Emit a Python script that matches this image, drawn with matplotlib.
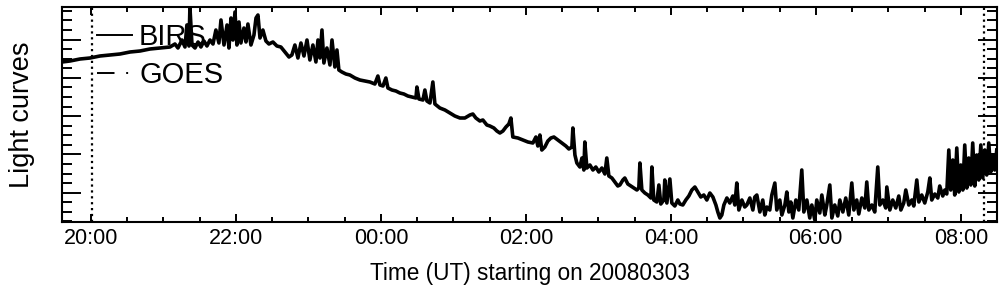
import numpy as np
import matplotlib.pyplot as plt
from matplotlib.ticker import MultipleLocator, FuncFormatter

plt.rcParams['font.family'] = ['Liberation Sans', 'DejaVu Sans']

# BIRS light curve: minutes after 20:00 UT on 2008-03-03, arbitrary units
minutes = [
    -24.0, -17.4, -9.1, -0.8, 7.4, 15.7, 24.0, 32.3, 40.6, 48.8, 57.1, 65.4,
    69.5, 72.0, 75.3, 77.8, 79.4, 81.1, 81.9, 83.6, 86.1, 88.6, 91.0, 93.5,
    96.0, 98.5, 101.0, 103.4, 105.9, 107.6, 110.1, 112.6, 114.2, 115.9, 117.5, 119.2,
    120.8, 122.5, 124.1, 126.6, 128.3, 129.9, 132.4, 134.9, 136.6, 138.2, 139.9, 142.3,
    144.8, 147.3, 150.6, 153.9, 157.2, 160.6, 163.9, 166.3, 168.8, 171.3, 173.8, 176.3,
    178.8, 181.2, 183.7, 186.2, 187.9, 189.5, 191.2, 192.8, 195.3, 197.8, 199.5, 201.9,
    203.6, 205.2, 207.7, 211.0, 214.3, 218.5, 222.6, 226.8, 230.9, 235.0, 237.5, 239.2,
    241.7, 244.1, 245.8, 249.1, 252.4, 255.7, 259.0, 262.3, 265.7, 269.0, 269.8, 271.5,
    274.8, 276.4, 278.1, 280.6, 283.0, 284.7, 288.8, 293.0, 297.1, 301.2, 305.4, 309.5,
    313.7, 316.1, 318.6, 321.9, 324.4, 327.7, 330.2, 333.5, 336.0, 338.5, 341.0, 343.5,
    345.9, 347.6, 349.2, 353.4, 357.5, 361.7, 365.8, 368.3, 369.9, 371.6, 373.2, 375.7,
    378.2, 380.7, 383.2, 386.5, 389.8, 393.1, 395.6, 398.1, 398.9, 400.6, 402.2, 404.7,
    406.4, 408.0, 408.8, 410.5, 413.0, 415.5, 417.9, 420.4, 422.9, 425.4, 427.0, 428.7,
    431.2, 433.7, 436.1, 437.8, 440.3, 441.9, 444.4, 446.9, 449.4, 451.9, 453.5, 454.4,
    456.0, 458.5, 461.0, 463.5, 464.3, 465.9, 468.4, 470.1, 471.7, 474.2, 475.0, 476.7,
    479.2, 480.8, 483.3, 485.8, 487.5, 489.9, 492.4, 494.9, 497.4, 499.9, 502.4, 504.8,
    507.3, 509.8, 512.3, 514.8, 517.3, 518.9, 520.6, 522.2, 523.9, 526.4, 528.8, 531.3,
    533.0, 534.6, 536.3, 538.8, 541.2, 542.9, 545.4, 547.9, 549.5, 551.2, 553.7, 556.1,
    557.8, 559.5, 561.9, 563.6, 566.1, 567.7, 570.2, 571.9, 574.4, 576.0, 577.7, 579.3,
    581.0, 583.5, 585.9, 588.4, 590.1, 592.6, 595.0, 596.7, 599.2, 600.8, 603.3, 605.0,
    607.5, 609.1, 611.6, 613.3, 615.7, 618.2, 619.9, 622.4, 624.8, 627.3, 629.8, 631.5,
    633.9, 635.6, 638.1, 640.6, 642.2, 643.9, 646.4, 648.8, 651.3, 653.0, 655.5, 657.9,
    658.8, 661.3, 663.7, 666.2, 668.7, 670.4, 672.8, 674.5, 677.0, 679.5, 681.1, 683.6,
    685.3, 687.7, 690.2, 692.7, 694.4, 696.0, 698.5, 701.0, 702.6, 705.1, 706.8, 708.4,
    710.1, 711.7, 713.4, 715.0, 716.7, 718.4, 720.0, 721.7, 723.3, 725.0, 726.6, 728.3,
    729.9, 731.6, 733.2, 734.9, 736.6, 738.2, 739.9, 741.5, 743.2, 744.8, 746.5, 748.1,
    749.8,
]
birs = [
    169, 170, 172, 173, 175, 176, 177, 179, 180, 182, 183, 184,
    187, 183, 191, 184, 206, 185, 224, 186, 183, 189, 184, 190,
    185, 191, 187, 201, 188, 211, 186, 206, 183, 213, 191, 219,
    186, 209, 188, 203, 189, 207, 186, 196, 213, 216, 193, 201,
    190, 187, 189, 185, 184, 179, 174, 176, 186, 173, 188, 175,
    191, 171, 186, 169, 191, 173, 201, 168, 183, 166, 191, 164,
    181, 161, 159, 157, 156, 153, 151, 150, 149, 147, 155, 146,
    145, 153, 143, 141, 140, 138, 137, 135, 134, 133, 144, 132,
    131, 141, 130, 128, 149, 127, 123, 121, 118, 115, 113, 113,
    116, 117, 113, 110, 111, 106, 105, 103, 100, 98, 100, 104,
    107, 113, 94, 93, 91, 89, 88, 94, 85, 96, 81, 84,
    90, 93, 94, 91, 88, 85, 82, 84, 103, 76, 68, 64,
    73, 61, 89, 63, 66, 61, 64, 59, 63, 57, 73, 55,
    53, 49, 45, 46, 51, 53, 47, 45, 43, 41, 43, 68,
    41, 38, 36, 33, 64, 31, 29, 46, 27, 31, 51, 28,
    52, 28, 25, 31, 27, 26, 31, 35, 41, 44, 39, 34,
    36, 31, 38, 34, 26, 19, 13, 16, 26, 33, 28, 35,
    26, 48, 21, 31, 24, 26, 33, 21, 34, 36, 19, 31,
    16, 24, 21, 36, 48, 21, 31, 16, 26, 39, 19, 29,
    13, 31, 21, 61, 19, 31, 13, 26, 11, 31, 18, 36,
    16, 26, 46, 13, 26, 15, 31, 19, 33, 16, 48, 21,
    31, 17, 33, 23, 49, 21, 26, 19, 64, 26, 31, 23,
    44, 21, 31, 23, 35, 21, 28, 41, 26, 31, 25, 51,
    29, 36, 28, 39, 53, 31, 37, 33, 45, 35, 41, 37,
    81, 41, 71, 36, 83, 39, 66, 41, 86, 43, 73, 46,
    88, 45, 76, 51, 86, 53, 81, 56, 88, 59, 76, 61,
    81,
]

hours = 20 + np.array(minutes) / 60.0

fig = plt.figure(figsize=(10.04, 2.96), dpi=100)
ax = fig.add_axes([62 / 1004, 74 / 296, 935 / 1004, 215 / 296])

ax.plot(hours, birs, color='black', lw=2.6, label='BIRS')
ax.plot([], [], color='black', lw=1.4, ls=(0, (9, 6, 1, 6)), label='GOES')

# start / end markers
ax.axvline(20.02, color='black', ls=':', lw=1.6)
ax.axvline(32.32, color='black', ls=':', lw=1.6)

ax.set_xlim(19.6, 32.5)
ax.set_ylim(9, 224)

ax.xaxis.set_major_locator(MultipleLocator(2))
ax.xaxis.set_minor_locator(MultipleLocator(0.5))
ax.xaxis.set_major_formatter(FuncFormatter(lambda v, p: '%02d:00' % (int(round(v)) % 24)))
ax.yaxis.set_major_locator(MultipleLocator(38.3))
ax.yaxis.set_minor_locator(MultipleLocator(38.3 / 4))
ax.set_yticklabels([])

ax.tick_params(axis='both', which='both', direction='in', top=True, right=True, width=1.4, color='black')
ax.tick_params(axis='x', which='major', length=5.5, labelsize=15.5, pad=4)
ax.tick_params(axis='x', which='minor', length=3.5)
ax.tick_params(axis='y', which='major', length=13.5, labelleft=False)
ax.tick_params(axis='y', which='minor', length=7)
for s in ax.spines.values():
    s.set_linewidth(1.5)

ax.set_xlabel('Time (UT) starting on 20080303', fontsize=16.3, labelpad=10)
ax.set_ylabel('Light curves', fontsize=19.5, labelpad=16)

leg = ax.legend(loc='upper left', bbox_to_anchor=(0.025, 0.979), frameon=False, fontsize=21,
                handlelength=1.2, handletextpad=0.24, labelspacing=0.33, borderaxespad=0)
for ln in leg.get_lines():
    ln.set_linewidth(1.4)

fig.savefig('out.png', dpi=100)
